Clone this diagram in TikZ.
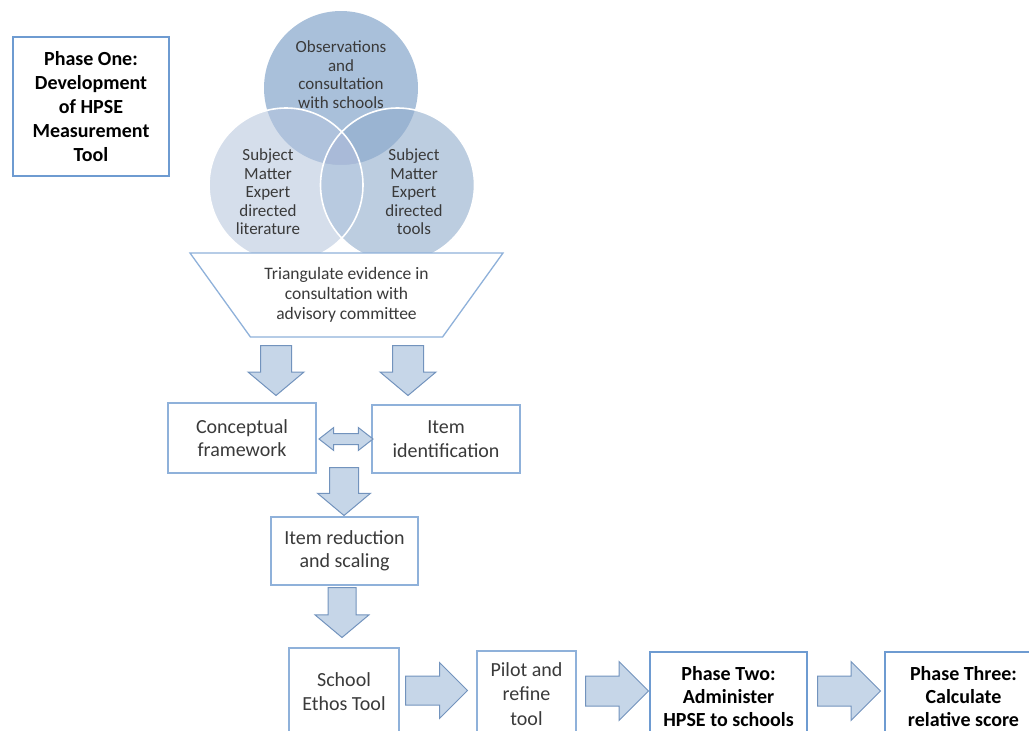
\documentclass[tikz,border=0pt]{standalone}
\usepackage{fontspec}
\setmainfont{Carlito}
\usepackage{xcolor}
\usepackage{tikz}
\usetikzlibrary{positioning,shapes.geometric,shapes.arrows}
\definecolor{boxline}{HTML}{8FB1DA}
\definecolor{phaseline}{HTML}{6E9BD1}
\definecolor{arrowfill}{HTML}{C6D6E8}
\definecolor{arrowline}{HTML}{7293BD}
\definecolor{txt}{HTML}{3A3A3A}
% Venn regions
\definecolor{vtop}{HTML}{A9C0DA}
\definecolor{vleft}{HTML}{D5DEEB}
\definecolor{vright}{HTML}{BCCDE0}
\definecolor{vtopleft}{HTML}{AFC2DC}
\definecolor{vtopright}{HTML}{9AB4D2}
\definecolor{vleftright}{HTML}{B8CAE0}
\definecolor{vall}{HTML}{A9BAD8}

\begin{document}
\begin{tikzpicture}[
    x=1pt, y=-1pt,
    stepbox/.style={draw=boxline, line width=1.3pt, fill=white, align=center, text=txt, inner sep=0pt, font=\fontsize{20}{23.5}\selectfont},
    phasebox/.style={draw=phaseline, line width=2.6pt, fill=white, align=center, text=black, inner sep=0pt, font=\fontsize{20}{24}\selectfont\bfseries},
    vcirc/.style={circle, minimum size=154pt, inner sep=0pt},
    vtext/.style={align=center, text=txt, inner sep=0pt, font=\fontsize{17}{18.5}\selectfont},
    funnel/.style={trapezium, shape border rotate=180, trapezium angle=42.6, trapezium stretches body, minimum width=313pt, minimum height=84pt, draw=boxline, line width=1.3pt, fill=white, align=center, text=txt, inner sep=0pt, font=\fontsize{17.5}{20.3}\selectfont},
    downarr/.style={single arrow, anchor=tail, draw=arrowline, fill=arrowfill, line width=1pt, rotate=-90, inner xsep=0pt, inner ysep=15pt, minimum height=50pt, single arrow head extend=12.5pt, single arrow tip angle=100},
    rightarr/.style={single arrow, anchor=tail, draw=arrowline, fill=arrowfill, line width=1pt, inner xsep=0pt, inner ysep=14.5pt, minimum height=63pt, single arrow head extend=14.5pt, single arrow tip angle=90},
    botharr/.style={double arrow, draw=arrowline, fill=arrowfill, line width=1pt, inner xsep=0pt, inner ysep=5pt, minimum height=54pt, double arrow head extend=6pt, double arrow tip angle=76}
]
    \useasboundingbox (0,0) rectangle (1029,731);
    \clip (0,0) rectangle (1029,731);

    % Phase one label
    \node[phasebox, minimum width=156pt, minimum height=139pt] (phaseone) at (91,106.5) {Phase One:\\Development\\of HPSE\\Measurement\\Tool};

    % Evidence sources
    \node[vcirc, fill=vtop] (obs) at (341,88) {};
    \node[vcirc, fill=vleft] (lit) at (286,185) {};
    \node[vcirc, fill=vright] (tools) at (397.5,185) {};
    \begin{scope}
        \clip (obs.center) circle[radius=77pt];
        \fill[vtopleft] (lit.center) circle[radius=77pt];
        \fill[vtopright] (tools.center) circle[radius=77pt];
        \clip (lit.center) circle[radius=77pt];
        \fill[vall] (tools.center) circle[radius=77pt];
    \end{scope}
    \begin{scope}
        \clip (lit.center) circle[radius=77pt];
        \clip (tools.center) circle[radius=77pt];
        \fill[vleftright, even odd rule] (lit.center) circle[radius=78pt] (obs.center) circle[radius=77pt];
    \end{scope}
    \draw[white, line width=1.6pt] (lit.center) circle[radius=77pt] (tools.center) circle[radius=77pt];
    \node[vtext] (obstext) at (341,74.5) {Observations\\and\\consultation\\with schools};
    \node[vtext] (littext) at (268,192) {Subject\\Matter\\Expert\\directed\\literature};
    \node[vtext] (toolstext) at (414,192) {Subject\\Matter\\Expert\\directed\\tools};

    % Triangulation
    \node[funnel] (tri) at (346.5,295) {Triangulate evidence in\\consultation with\\advisory committee};

    % Framework and items
    \node[downarr] (a1) at (276,345) {};
    \node[downarr] (a2) at (408,345) {};
    \node[stepbox, minimum width=148pt, minimum height=70pt] (concept) at (242,438) {Conceptual\\framework};
    \node[stepbox, minimum width=148pt, minimum height=68pt] (items) at (446,439) {Item\\identification};
    \node[botharr] (link) at (346,439) {};

    \node[downarr, minimum height=48pt, inner ysep=14pt, single arrow head extend=12pt] (a3) at (344,467) {};
    \node[stepbox, minimum width=147pt, minimum height=68pt] (reduce) at (344.5,551) {Item reduction\\and scaling};
    \node[downarr, inner ysep=13.5pt, single arrow head extend=13pt] (a4) at (342,587) {};

    % Bottom row
    \node[stepbox, minimum width=110pt, minimum height=87pt] (ethos) at (344,691.5) {School\\Ethos Tool};
    \node[rightarr, minimum height=62pt, inner ysep=14pt, single arrow head extend=13.5pt] (a5) at (405,690.5) {};
    \node[stepbox, minimum width=99pt, minimum height=86pt, font=\fontsize{20}{24.5}\selectfont] (pilot) at (526.5,694) {Pilot and\\refine\\tool};
    \node[rightarr] (a6) at (585,691) {};
    \node[phasebox, minimum width=157pt, minimum height=90pt, font=\fontsize{20}{23}\selectfont\bfseries] (phasetwo) at (728.5,697) {Phase Two:\\Administer\\HPSE to schools};
    \node[rightarr] (a7) at (817,691) {};
    \node[phasebox, minimum width=157pt, minimum height=90pt, font=\fontsize{20}{23}\selectfont\bfseries] (phasethree) at (963.5,697) {Phase Three:\\Calculate\\relative score};
\end{tikzpicture}
\end{document}
